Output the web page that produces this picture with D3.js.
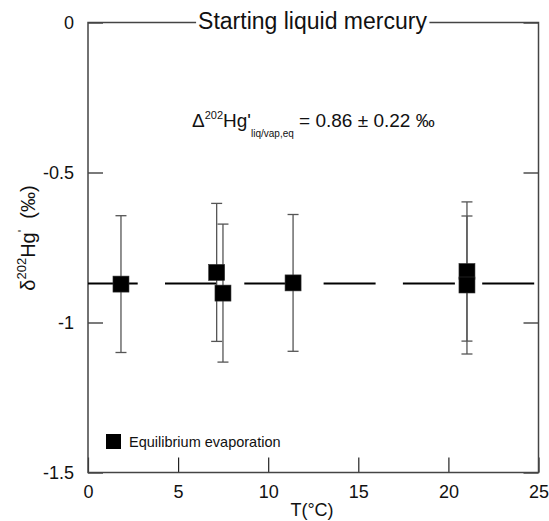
<!DOCTYPE html>
<html>
<head>
<meta charset="utf-8">
<script src="https://cdn.jsdelivr.net/npm/d3@7"></script>
<style>
  body { margin: 0; background: #fff; }
  svg { display: block; font-family: "Liberation Sans", Arial, sans-serif; }
  .axis text { font-size: 18px; fill: #111; }
  .axis line { stroke: #222; stroke-width: 1.2; }
</style>
</head>
<body>
<svg id="chart" width="549" height="521"></svg>
<script>
// measured points (T in degC, delta202Hg' in permil, 1 sd)
const temps    = [1.83, 7.14, 7.49, 11.38, 21.03, 21.03];
const delta202 = [-0.872, -0.833, -0.902, -0.868, -0.830, -0.875];
const errs     = [0.228, 0.230, 0.230, 0.228, 0.232, 0.230];
const meanDelta = -0.87;

const xTicks = [0, 5, 10, 15, 20, 25];
const yTicks = [0, -0.5, -1, -1.5];

const W = 549, H = 521;
const margin = { left: 88, right: 10.5, top: 22.5, bottom: 48.5 };

const svg = d3.select('#chart');

const x = d3.scaleLinear().domain([0, 25]).range([margin.left, W - margin.right]);
const y = d3.scaleLinear().domain([-1.5, 0]).range([H - margin.bottom, margin.top]);

const points = temps.map((t, i) => ({ t: t, v: delta202[i], e: errs[i] }));

// axes (ticks point inward)
svg.append('g')
    .attr('class', 'axis')
    .attr('transform', `translate(${margin.left},0)`)
    .call(d3.axisLeft(y).tickValues(yTicks).tickSizeInner(-15).tickSizeOuter(0)
        .tickPadding(14).tickFormat(d => String(d)))
    .call(g => g.select('.domain').remove());

svg.append('g')
    .attr('class', 'axis')
    .attr('transform', `translate(${W - margin.right},0)`)
    .call(d3.axisRight(y).tickValues(yTicks).tickSizeInner(-15).tickSizeOuter(0).tickFormat(''))
    .call(g => g.select('.domain').remove());

svg.append('g')
    .attr('class', 'axis')
    .attr('transform', `translate(0,${H - margin.bottom})`)
    .call(d3.axisBottom(x).tickValues(xTicks).tickSizeInner(-15).tickSizeOuter(0)
        .tickPadding(13).tickFormat(d => String(d)))
    .call(g => g.select('.domain').remove());

// frame
svg.append('rect')
    .attr('x', x(0)).attr('y', y(0))
    .attr('width', x(25) - x(0)).attr('height', y(-1.5) - y(0))
    .attr('fill', 'none').attr('stroke', '#444').attr('stroke-width', 1.5);

// title sits on the top frame line
let title = svg.append('text')
    .attr('x', 312.5).attr('y', 29)
    .attr('text-anchor', 'middle')
    .style('font-size', '23px')
    .attr('fill', '#111')
    .text('Starting liquid mercury');
let tb = title.node().getBBox();
svg.append('rect')
    .attr('x', tb.x - 2).attr('y', y(0) - 3)
    .attr('width', tb.width + 4).attr('height', 6)
    .attr('fill', '#fff');
title.raise();

// mean value, dashed
svg.append('line')
    .attr('x1', x(0)).attr('x2', x(25))
    .attr('y1', y(meanDelta)).attr('y2', y(meanDelta))
    .attr('stroke', '#000').attr('stroke-width', 2.2)
    .attr('stroke-dasharray', '52,27.3')
    .attr('stroke-dashoffset', 2.3);

// error bars
let eb = svg.append('g').attr('stroke', '#555').attr('stroke-width', 1.3);
eb.selectAll('.stem').data(points).enter().append('line')
    .attr('x1', d => x(d.t)).attr('x2', d => x(d.t))
    .attr('y1', d => y(d.v + d.e)).attr('y2', d => y(d.v - d.e));
eb.selectAll('.capTop').data(points).enter().append('line')
    .attr('x1', d => x(d.t) - 5.5).attr('x2', d => x(d.t) + 5.5)
    .attr('y1', d => y(d.v + d.e)).attr('y2', d => y(d.v + d.e));
eb.selectAll('.capBot').data(points).enter().append('line')
    .attr('x1', d => x(d.t) - 5.5).attr('x2', d => x(d.t) + 5.5)
    .attr('y1', d => y(d.v - d.e)).attr('y2', d => y(d.v - d.e));

// markers
const sq = 16;
svg.append('g').selectAll('rect').data(points).enter().append('rect')
    .attr('x', d => x(d.t) - sq / 2).attr('y', d => y(d.v) - sq / 2)
    .attr('width', sq).attr('height', sq)
    .attr('fill', '#000').attr('stroke', '#333').attr('stroke-width', 0.6);

// annotation
let ann = svg.append('text')
    .attr('x', 192).attr('y', 127)
    .style('font-size', '19px').attr('fill', '#111');
ann.append('tspan').text('\u0394');
ann.append('tspan').attr('dy', -8).style('font-size', '11px').text('202');
ann.append('tspan').attr('dy', 8).text("Hg'");
ann.append('tspan').attr('dy', 10).style('font-size', '10px').text('liq/vap,eq');
ann.append('tspan').attr('dy', -10).text(' = 0.86 \u00b1 0.22 \u2030');

// legend
svg.append('rect')
    .attr('x', 106).attr('y', 434).attr('width', 15).attr('height', 15)
    .attr('fill', '#000');
svg.append('text')
    .attr('x', 129).attr('y', 447)
    .style('font-size', '14.5px').attr('fill', '#111')
    .text('Equilibrium evaporation');

// axis titles
svg.append('text')
    .attr('x', 312).attr('y', 516)
    .attr('text-anchor', 'middle')
    .style('font-size', '18px').attr('fill', '#111')
    .text('T(\u00b0C)');

let yt = svg.append('text')
    .attr('transform', 'translate(35,238) rotate(-90)')
    .attr('text-anchor', 'middle')
    .style('font-size', '20px').attr('fill', '#111');
yt.append('tspan').text('\u03b4');
yt.append('tspan').attr('dy', -9).style('font-size', '13px').text('202');
yt.append('tspan').attr('dy', 9).text('Hg');
yt.append('tspan').attr('dy', -8).style('font-size', '13px').text("'");
yt.append('tspan').attr('dy', 8).text('\u00a0 (\u2030)');
</script>
</body>
</html>
